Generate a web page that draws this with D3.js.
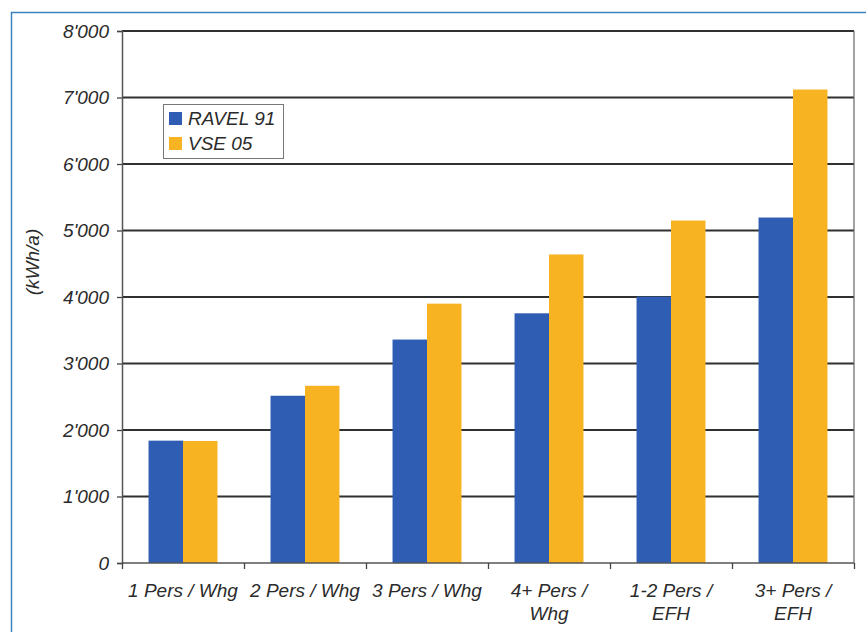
<!DOCTYPE html>
<html>
<head>
<meta charset="utf-8">
<script src="https://cdn.jsdelivr.net/npm/d3@7"></script>
<style>
  html, body { margin: 0; padding: 0; background: #fff; }
  svg { display: block; }
  text { font-family: "Liberation Sans", Arial, sans-serif; font-style: italic; fill: #2b2b2b; }
</style>
</head>
<body>
<svg id="chart" width="866" height="632"></svg>
<script>
const categories = [["1 Pers / Whg"], ["2 Pers / Whg"], ["3 Pers / Whg"], ["4+ Pers /", "Whg"], ["1-2 Pers /", "EFH"], ["3+ Pers /", "EFH"]];
const seriesNames = ["RAVEL 91", "VSE 05"];
const ravel91 = [1840, 2515, 3360, 3755, 4005, 5195];
const vse05 = [1835, 2665, 3900, 4640, 5150, 7120];
const yTicks = [0, 1000, 2000, 3000, 4000, 5000, 6000, 7000, 8000];
const yTitle = "(kWh/a)";
const colors = ["#2f5db3", "#f8b322"];
const FS = 19;

const svg = d3.select("#chart");
const m = { left: 122, top: 31, right: 854, bottom: 563 };

// outer frame
svg.append("path")
  .attr("d", `M11.5,640 V12.5 H870`)
  .attr("fill", "none").attr("stroke", "#3d82c2").attr("stroke-width", 1.5);

const x = d3.scaleBand().domain(d3.range(categories.length)).range([m.left, m.right]).paddingInner(0).paddingOuter(0);
const x1 = d3.scaleBand().domain([0, 1]).range([0, x.bandwidth()]).paddingOuter(0.77).paddingInner(0);
const y = d3.scaleLinear().domain([0, 8000]).range([m.bottom, m.top]);

// gridlines
svg.append("g").selectAll("line").data(yTicks.filter(d => d > 0)).join("line")
  .attr("x1", m.left).attr("x2", m.right)
  .attr("y1", d => y(d)).attr("y2", d => y(d))
  .attr("stroke", "#303030").attr("stroke-width", 2);

// right border
svg.append("line").attr("x1", m.right).attr("x2", m.right).attr("y1", m.top).attr("y2", m.bottom)
  .attr("stroke", "#666").attr("stroke-width", 1.2);

// bars
const groups = svg.append("g").selectAll("g").data(categories.map((c, i) => i)).join("g")
  .attr("transform", i => `translate(${x(i)},0)`);
groups.selectAll("rect").data(i => [ravel91[i], vse05[i]]).join("rect")
  .attr("x", (d, j) => x1(j))
  .attr("width", x1.bandwidth())
  .attr("y", d => y(d))
  .attr("height", d => y(0) - y(d))
  .attr("fill", (d, j) => colors[j]);

// y axis
const yAxis = d3.axisLeft(y).tickValues(yTicks).tickSize(5).tickPadding(8)
  .tickFormat(d => d === 0 ? "0" : d3.format(",")(d).replace(/,/g, "'"));
const ya = svg.append("g").attr("transform", `translate(${m.left},0)`).call(yAxis);
ya.select(".domain").attr("stroke", "#555").attr("stroke-width", 1.5);
ya.selectAll(".tick line").attr("stroke", "#444").attr("stroke-width", 1.3);
ya.selectAll(".tick text").attr("font-size", FS).attr("fill", "#2b2b2b")
  .attr("font-family", "Liberation Sans, Arial, sans-serif").attr("font-style", "italic");

// x axis
const xAxis = d3.axisBottom(d3.scaleLinear().domain([0, categories.length]).range([m.left, m.right]))
  .tickValues(d3.range(categories.length + 1)).tickSize(6).tickFormat("");
const xa = svg.append("g").attr("transform", `translate(0,${m.bottom})`).call(xAxis);
xa.select(".domain").attr("stroke", "#555").attr("stroke-width", 1.5).attr("d", `M${m.left},0H${m.right}`);
xa.selectAll(".tick line").attr("stroke", "#444").attr("stroke-width", 1.3);

// x labels
const lbl = svg.append("g").selectAll("text").data(categories.map((c, i) => i)).join("text")
  .attr("x", i => x(i) + x.bandwidth() / 2)
  .attr("y", 597)
  .attr("text-anchor", "middle")
  .attr("font-size", FS);
lbl.selectAll("tspan").data(i => categories[i]).join("tspan")
  .attr("x", function () { return d3.select(this.parentNode).attr("x"); })
  .attr("dy", (d, k) => k === 0 ? 0 : 23)
  .text(d => d);

// y title
svg.append("text")
  .attr("transform", `translate(39,262) rotate(-90)`)
  .attr("text-anchor", "middle").attr("font-size", FS)
  .text(yTitle);

// legend
const lg = svg.append("g").attr("transform", "translate(163,104)");
lg.append("rect").attr("x", 0.5).attr("y", 0.5).attr("width", 120).attr("height", 54)
  .attr("fill", "#fff").attr("stroke", "#777").attr("stroke-width", 1);
seriesNames.forEach((s, i) => {
  lg.append("rect").attr("x", 6).attr("y", 8 + i * 25).attr("width", 13).attr("height", 13).attr("fill", colors[i]);
  lg.append("text").attr("x", 25).attr("y", 21 + i * 25).attr("font-size", FS).text(s);
});
</script>
</body>
</html>
